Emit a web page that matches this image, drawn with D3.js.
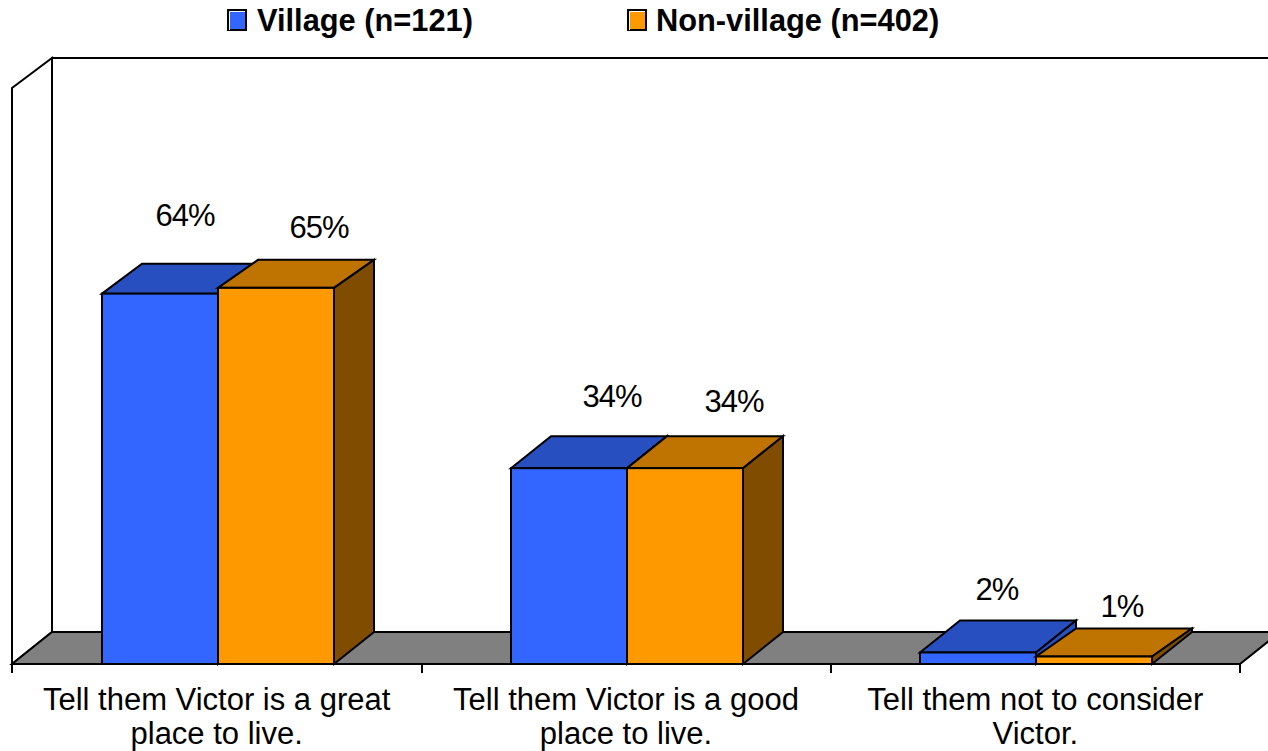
<!DOCTYPE html>
<html>
<head>
<meta charset="utf-8">
<script src="https://cdn.jsdelivr.net/npm/d3@7"></script>
<style>
  html, body { margin: 0; padding: 0; background: #fff; overflow: hidden; }
  svg { display: block; }
  text { font-family: "Liberation Sans", Arial, sans-serif; fill: #000; }
</style>
</head>
<body>
<svg></svg>
<script>
// values, the labels show them rounded
var categories = [
    ["Tell them Victor is a great", "place to live."],
    ["Tell them Victor is a good", "place to live."],
    ["Tell them not to consider", "Victor."]
];
var seriesNames = ["Village (n=121)", "Non-village (n=402)"];
var village = [64.3, 34, 2];
var nonVillage = [65.3, 34, 1.3];

var svgWidth = 1268,
    svgHeight = 751,
    depthX = 40,
    floorDepthY = -32,
    wallDepthY = -30;

var frontColors = ["#3366FF", "#FF9900"],
    topColors = ["#284FBF", "#BF7300"],
    sideColors = ["#284FBF", "#804D00"];

// the labels were hand placed in the original, one nudge per bar
var labelNudge = [
    [[25, -68], [43, -50]],
    [[43, -61], [49, -56]],
    [[19, -52], [28, -40]]
];
// the 3d top of each bar is not quite the same depth in the original
var topDepth = [
    [-30, -28],
    [-32, -32],
    [-32, -28]
];

var svg = d3.select("svg")
    .attr("width", svgWidth)
    .attr("height", svgHeight);

var x0 = d3.scaleBand()
    .domain(d3.range(categories.length))
    .range([12, 1240]);

var x1 = d3.scaleBand()
    .domain([0, 1])
    .range([0, 232]);

var y = d3.scaleLinear()
    .domain([0, 100])
    .range([664, 88]);

var floorY = y(0),
    wallTop = y(100),
    left = x0.range()[0];

function poly(points) {
    return d3.line()(points) + "Z";
}

// walls and floor
var frame = svg.append("g")
    .attr("stroke", "#000")
    .attr("stroke-width", 2)
    .attr("stroke-linejoin", "miter");

frame.append("path")
    .attr("d", poly([[left, floorY], [left, wallTop],
        [left + depthX, wallTop + wallDepthY], [left + depthX, floorY + floorDepthY]]))
    .attr("fill", "#fff");

frame.append("path")
    .attr("d", d3.line()([[left + depthX, floorY + floorDepthY],
        [left + depthX, wallTop + wallDepthY], [svgWidth + 20, wallTop + wallDepthY]]))
    .attr("fill", "none");

frame.append("path")
    .attr("d", poly([[left, floorY], [left + depthX, floorY + floorDepthY],
        [x0.range()[1] + depthX, floorY + floorDepthY], [x0.range()[1], floorY]]))
    .attr("fill", "#808080");

// category axis
var tickValues = d3.range(categories.length + 1).map(function(i) {
    return Math.ceil(left + i * x0.step());
});
frame.selectAll(".tick")
    .data(tickValues)
    .enter()
    .append("line")
    .attr("class", "tick")
    .attr("x1", function(d) { return d; })
    .attr("x2", function(d) { return d; })
    .attr("y1", floorY)
    .attr("y2", floorY + 9);

// bars
var rows = categories.map(function(c, i) {
    return [
        { cat: i, s: 0, value: village[i] },
        { cat: i, s: 1, value: nonVillage[i] }
    ];
});

function barLeft(d) {
    return Math.floor(x0(d.cat) + 90 + x1(d.s));
}

var bars = svg.selectAll(".group")
    .data(rows)
    .enter()
    .append("g")
    .attr("class", "group")
    .selectAll(".bar")
    .data(function(d) { return d; })
    .enter()
    .append("g")
    .attr("class", "bar")
    .attr("stroke", "#000")
    .attr("stroke-width", 2)
    .attr("stroke-linejoin", "miter");

bars.append("path")
    .attr("d", function(d) {
        var l = barLeft(d), r = l + x1.bandwidth(), t = y(d.value), dy = topDepth[d.cat][d.s];
        return poly([[l, t], [l + depthX, t + dy], [r + depthX, t + dy], [r, t]]);
    })
    .attr("fill", function(d) { return topColors[d.s]; });

bars.append("path")
    .attr("d", function(d) {
        var r = barLeft(d) + x1.bandwidth(), t = y(d.value), dy = topDepth[d.cat][d.s];
        return poly([[r, t], [r + depthX, t + dy], [r + depthX, floorY + floorDepthY], [r, floorY]]);
    })
    .attr("fill", function(d) { return sideColors[d.s]; });

bars.append("rect")
    .attr("x", barLeft)
    .attr("y", function(d) { return y(d.value); })
    .attr("width", x1.bandwidth())
    .attr("height", function(d) { return floorY - y(d.value); })
    .attr("fill", function(d) { return frontColors[d.s]; });

// value labels go on top of everything
svg.selectAll(".value")
    .data(d3.merge(rows))
    .enter()
    .append("text")
    .attr("class", "value")
    .attr("text-anchor", "middle")
    .attr("font-size", 31)
    .attr("letter-spacing", -1)
    .attr("x", function(d) {
        return barLeft(d) + x1.bandwidth() / 2 + labelNudge[d.cat][d.s][0];
    })
    .attr("y", function(d) {
        return y(d.value) + labelNudge[d.cat][d.s][1];
    })
    .text(function(d) { return Math.round(d.value) + "%"; });

// category labels
var catLabels = svg.selectAll(".cat")
    .data(categories)
    .enter()
    .append("text")
    .attr("class", "cat")
    .attr("text-anchor", "middle")
    .attr("font-size", 31);

catLabels.selectAll("tspan")
    .data(function(d, i) {
        return d.map(function(line, j) { return { line: line, j: j, i: i }; });
    })
    .enter()
    .append("tspan")
    .attr("x", function(d) { return x0(d.i) + x0.bandwidth() / 2; })
    .attr("y", function(d) { return 709.5 + d.j * 34.5; })
    .text(function(d) { return d.line; });

// legend
var legendX = [228, 628];
var legend = svg.selectAll(".legend")
    .data(seriesNames)
    .enter()
    .append("g")
    .attr("class", "legend")
    .attr("transform", function(d, i) {
        return "translate(" + legendX[i] + ",10)";
    });

legend.append("rect")
    .attr("width", 18)
    .attr("height", 20)
    .attr("fill", function(d, i) { return frontColors[i]; })
    .attr("stroke", "#000")
    .attr("stroke-width", 2);

legend.append("path")
    .attr("d", "M1.5,20V1.5H17")
    .attr("fill", "none")
    .attr("stroke", "#fff")
    .attr("stroke-width", 1);

legend.append("text")
    .attr("x", function(d, i) { return i ? 28 : 29; })
    .attr("y", 21)
    .attr("font-size", 30.8)
    .attr("font-weight", "bold")
    .text(function(d) { return d; });
</script>
</body>
</html>
